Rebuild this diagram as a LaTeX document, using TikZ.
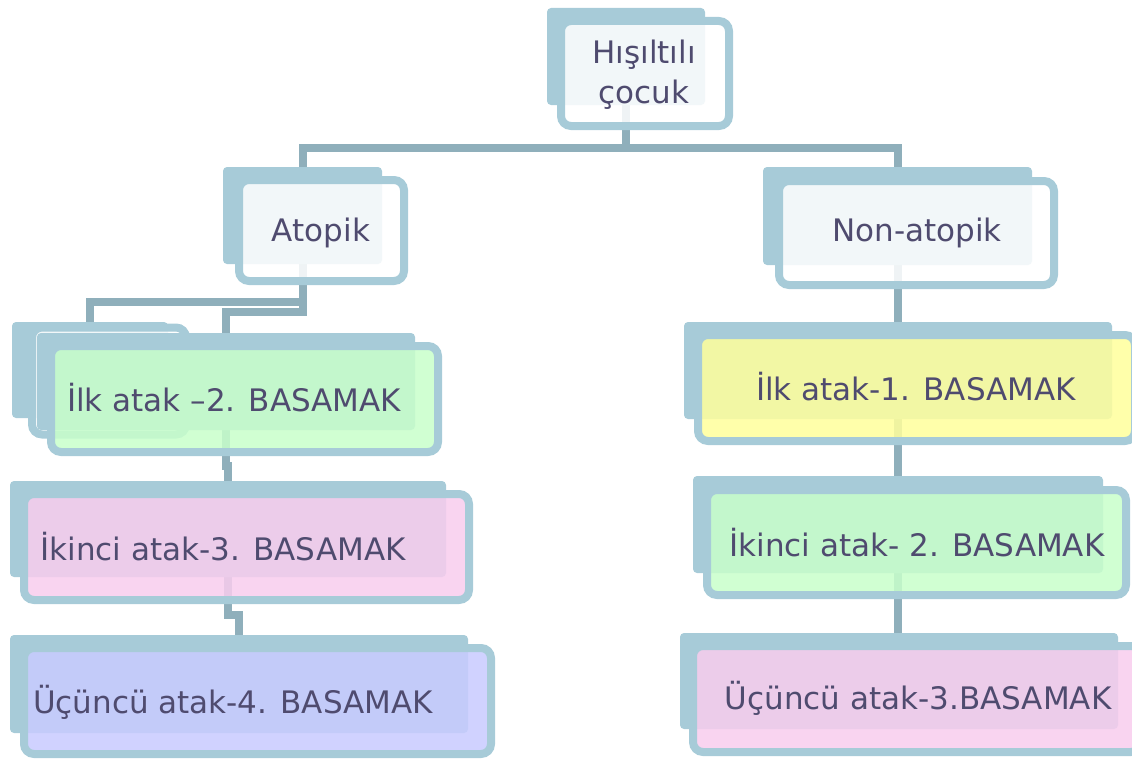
\documentclass[tikz,border=0pt]{standalone}
\usepackage{fontspec}
\setmainfont{DejaVu Sans}
\usetikzlibrary{backgrounds}

\definecolor{boxblue}{HTML}{A7CBD8}
\definecolor{linkblue}{HTML}{8FAFBB}
\definecolor{inkgray}{HTML}{4F4B6F}
\definecolor{fillgreen}{HTML}{C8FFCB}
\definecolor{fillpink}{HTML}{F8CDEE}
\definecolor{fillviolet}{HTML}{C8CBFF}
\definecolor{fillyellow}{HTML}{FFFF9C}

\tikzset{
  backbox/.style={fill=boxblue, rounded corners=4pt, inner sep=0pt},
  frontbox/.style={draw=boxblue, line width=8pt, rounded corners=10pt,
    fill opacity=0.86, inner sep=0pt},
  link/.style={draw=linkblue, line width=8pt},
  boxtext/.style={text=inkgray, font=\fontsize{31}{40}\selectfont, align=center},
}

\begin{document}
\begin{tikzpicture}[x=1pt, y=-1pt]
	\useasboundingbox (0,0) rectangle (1132,760);

	% Top
	\node[backbox, minimum width=158, minimum height=97] (hb) at (626,56.5) {};
	\node[frontbox, fill=white, minimum width=168, minimum height=105] (hf) at (645,73.5) {};
	\node[boxtext] (ht) at (644,75) {Hışıltılı\\çocuk};

	% Atopik side
	\node[backbox, minimum width=159, minimum height=97] (ab) at (302.5,215.5) {};
	\node[frontbox, fill=white, minimum width=165, minimum height=101] (af) at (321.5,230.5) {};
	\node[boxtext] (at) at (321,233) {Atopik};

	\node[backbox, minimum width=156, minimum height=96] (ls) at (90,370) {};
	\node[frontbox, fill=white, minimum width=154, minimum height=107] (lw) at (109,381) {};
	\node[backbox, minimum width=378, minimum height=97] (lb) at (226,381.5) {};
	\node[frontbox, fill=fillgreen, minimum width=387, minimum height=106] (lf) at (244.5,399) {};
	\node[boxtext] (lt) at (234,398) {İlk atak –2. BASAMAK};

	\node[backbox, minimum width=436, minimum height=96] (ib) at (228,529) {};
	\node[frontbox, fill=fillpink, minimum width=445, minimum height=106] (if) at (246.5,547) {};
	\node[boxtext] (it) at (223,547) {İkinci atak-3. BASAMAK};

	\node[backbox, minimum width=458, minimum height=98] (ub) at (239,684) {};
	\node[frontbox, fill=fillviolet, minimum width=467, minimum height=106] (uf) at (257.5,701) {};
	\node[boxtext] (ut) at (233,702) {Üçüncü atak-4. BASAMAK};

	% Non-atopik side
	\node[backbox, minimum width=269, minimum height=98] (nb) at (897.5,216) {};
	\node[frontbox, fill=white, minimum width=275, minimum height=104] (nf) at (916.5,233) {};
	\node[boxtext] (nt) at (917,233) {Non-atopik};

	\node[backbox, minimum width=428, minimum height=97] (rb1) at (898,370.5) {};
	\node[frontbox, fill=fillyellow, minimum width=437, minimum height=106] (rf1) at (916.5,388) {};
	\node[boxtext] (rt1) at (916,387) {İlk atak-1. BASAMAK};

	\node[backbox, minimum width=410, minimum height=97] (rb2) at (898,524.5) {};
	\node[frontbox, fill=fillgreen, minimum width=419, minimum height=105] (rf2) at (916.5,542.5) {};
	\node[boxtext] (rt2) at (917,543) {İkinci atak- 2. BASAMAK};

	\node[backbox, minimum width=438, minimum height=96] (rb3) at (899,681) {};
	\node[frontbox, fill=fillpink, minimum width=448, minimum height=106] (rf3) at (917,699) {};
	\node[boxtext] (rt3) at (918,698) {Üçüncü atak-3.BASAMAK};

	% Links
	\begin{scope}[on background layer]
		\coordinate (split) at (626,148);
		\draw[link] (hb.south) -- (split);
		\draw[link] (ab.north) |- (split) -| (nb.north);
		\draw[link] (ab.south) -- ++(0,38) -| (ls.north);
		\draw[link] (ab.south) -- ++(0,48) -| (lb.north);
		\draw[link] (lb.south) -- ++(0,36) -| (ib.north);
		\draw[link] (ib.south) -- ++(0,38) -| (ub.north);
		\draw[link] (nb.south) -- (nb.south |- rb1.north);
		\draw[link] (rb1.south) -- (rb1.south |- rb2.north);
		\draw[link] (rb2.south) -- (rb2.south |- rb3.north);
	\end{scope}
\end{tikzpicture}
\end{document}
